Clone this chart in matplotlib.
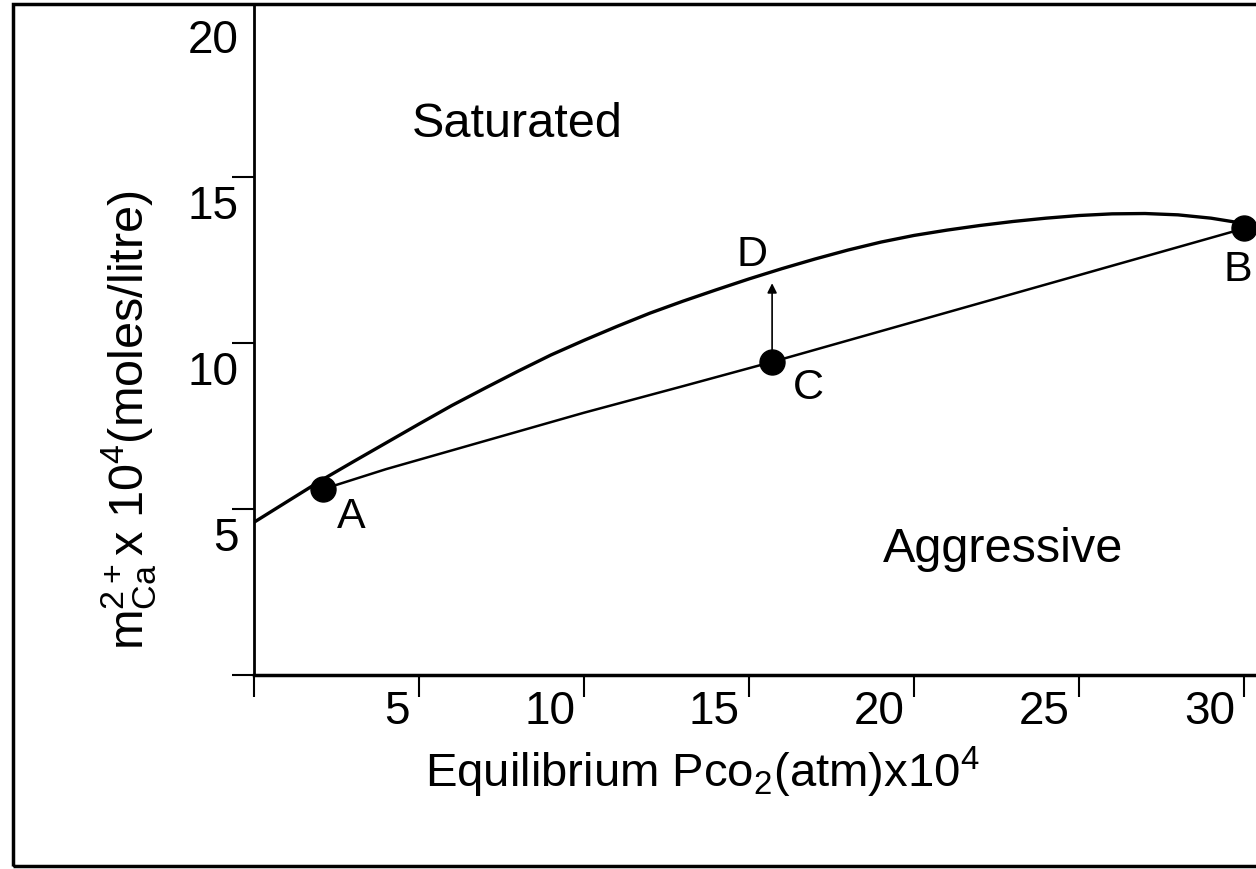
import numpy as np
import matplotlib
matplotlib.use("Agg")
import matplotlib.pyplot as plt
from matplotlib.transforms import ScaledTranslation
from matplotlib.patches import Rectangle

plt.rcParams["font.family"] = ["Liberation Sans", "DejaVu Sans"]
plt.rcParams["mathtext.default"] = "regular"

# saturation curve
sat_x = [0, 1, 2.1, 3, 4, 5, 6, 7, 8, 9, 10, 11, 12, 13, 14, 15,
         16, 17, 18, 19, 20, 21, 22, 23, 24, 25, 26, 27, 28, 29, 30]
sat_y = [4.6, 5.22, 5.9, 6.42, 6.99, 7.56, 8.12, 8.64, 9.15, 9.64, 10.08,
         10.5, 10.9, 11.26, 11.6, 11.93, 12.24, 12.53, 12.8, 13.04, 13.24,
         13.4, 13.54, 13.66, 13.76, 13.84, 13.89, 13.9, 13.86, 13.76, 13.6]

# mixing line A - C - B
mix_x = [2.1, 4.0, 7.0, 10.0, 13.0, 15.7, 30.0]
mix_y = [5.6, 6.2, 7.05, 7.9, 8.7, 9.43, 13.45]

# labelled points
pt_x = [2.1, 15.7, 30.0]
pt_y = [5.6, 9.43, 13.45]
D_y = 11.8

x_ticks = [0, 5, 10, 15, 20, 25, 30]
x_tick_labels = ["", "5", "10", "15", "20", "25", "30"]
y_ticks = [0, 5, 10, 15, 20]
y_tick_labels = ["", "5", "10", "15", "20"]

W, H = 1256, 869
fig = plt.figure(figsize=(W / 100, H / 100), dpi=100)
ax = fig.add_axes([254 / W, (H - 675) / H, (W - 254) / W, (675 - 5) / H])
ax.set_xlim(0, (W - 254) / 33.0)
ax.set_ylim(0, (675 - 5) / 33.2)

ax.plot(sat_x, sat_y, color="black", linewidth=2.4, solid_capstyle="round")
ax.plot(mix_x, mix_y, color="black", linewidth=1.8)
ax.plot(pt_x, pt_y, "o", color="black", markersize=18, clip_on=False)

ax.annotate("", xy=(pt_x[1], D_y), xytext=(pt_x[1], pt_y[1]),
            arrowprops=dict(arrowstyle="-|>", color="black", lw=1.2,
                            mutation_scale=14, shrinkA=0, shrinkB=0))

ax.text(2.95, 4.75, "A", fontsize=31, ha="center", va="center")
ax.text(16.8, 8.64, "C", fontsize=31, ha="center", va="center")
ax.text(15.1, 12.65, "D", fontsize=31, ha="center", va="center")
ax.text(29.8, 12.2, "B", fontsize=31, ha="center", va="center")
ax.text(7.97, 16.57, "Saturated", fontsize=35, ha="center", va="center")
ax.text(22.7, 3.77, "Aggressive", fontsize=35, ha="center", va="center")

ax.spines["top"].set_visible(False)
ax.spines["right"].set_visible(False)
ax.spines["left"].set_linewidth(2.0)
ax.spines["bottom"].set_linewidth(2.5)

ax.set_xticks(x_ticks)
ax.set_xticklabels(x_tick_labels, fontsize=33)
ax.set_yticks(y_ticks)
ax.set_yticklabels(y_tick_labels, fontsize=33)
ax.tick_params(axis="both", direction="out", length=16, width=1.5, pad=0)
ax.yaxis.get_major_ticks()[-1].tick1line.set_visible(False)

for lab in ax.get_xticklabels():
    lab.set_ha("right")
    lab.set_va("top")
    lab.set_transform(lab.get_transform() + ScaledTranslation(-0.09, 0.07, fig.dpi_scale_trans))
for lab in ax.get_yticklabels():
    lab.set_ha("right")
    lab.set_va("top")
    lab.set_transform(lab.get_transform() + ScaledTranslation(0.07, -0.08, fig.dpi_scale_trans))

fig.text(702 / W, 1 - 772 / H, r"Equilibrium Pco$_2$(atm)x10$^4$",
         fontsize=34, ha="center", va="center")
fig.text(128 / W, 1 - 420 / H, r"m$_{Ca}^{2+}$x 10$^4$(moles/litre)",
         fontsize=35, ha="center", va="center", rotation=90)

# frame round the figure
fig.patches.append(Rectangle((13 / W, 3 / H), 1.2, 1 - 7 / H, transform=fig.transFigure,
                             fill=False, edgecolor="black", linewidth=2.5))

fig.savefig("out.png", dpi=100)
